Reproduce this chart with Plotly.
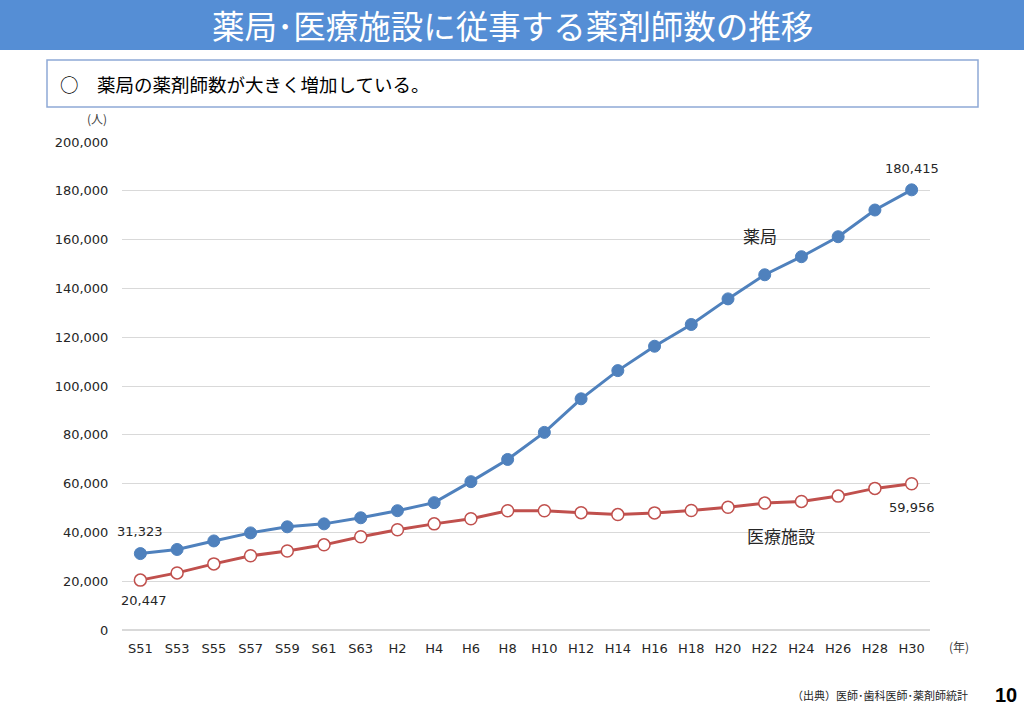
import plotly.graph_objects as go

years = ["S51", "S53", "S55", "S57", "S59", "S61", "S63", "H2", "H4", "H6", "H8",
         "H10", "H12", "H14", "H16", "H18", "H20", "H22", "H24", "H26", "H28", "H30"]
pharmacy = [31323, 33000, 36500, 39800, 42300, 43500, 46000, 48900, 52200, 60800, 69900,
            81000, 94760, 106315, 116303, 125221, 135716, 145603, 153012, 161198, 172142, 180415]
medical = [20447, 23400, 27100, 30400, 32400, 34900, 38200, 41100, 43500, 45600, 48900,
           48900, 48100, 47300, 48000, 48964, 50336, 52013, 52704, 54879, 58044, 59956]
y_ticks = [0, 20000, 40000, 60000, 80000, 100000, 120000, 140000, 160000, 180000, 200000]

W, H = 1024, 710
BLUE = "#4F81BD"
RED = "#C0504D"
JP = "Noto Sans CJK JP"
NUM = "DejaVu Sans"
TXT = "#262626"

# vertical compensation for the capture
OFF, SC = 7.2, 0.977


def px(x):
    return x / W


def py(y):
    yy = (y - OFF) / SC
    return (H - yy) / H


fig = go.Figure()
fig.add_trace(go.Scatter(x=years, y=pharmacy, mode="lines+markers", name="薬局",
                         line=dict(color=BLUE, width=3),
                         marker=dict(size=12, color=BLUE, line=dict(color=BLUE, width=1))))
fig.add_trace(go.Scatter(x=years, y=medical, mode="lines+markers", name="医療施設",
                         line=dict(color=RED, width=3),
                         marker=dict(size=12, color="white", line=dict(color=RED, width=1.5))))

shapes = [
    dict(type="rect", xref="paper", yref="paper", x0=0, x1=1, y0=py(50), y1=1.05,
         fillcolor="#558ED5", line=dict(width=0), layer="below"),
    dict(type="rect", xref="paper", yref="paper", x0=px(47), x1=px(978), y0=py(107), y1=py(60),
         fillcolor="white", line=dict(color="#8EA9D6", width=1.5), layer="below"),
]


def label(x, y, text, size, color=TXT, family=JP, xa="center"):
    return dict(xref="paper", yref="paper", x=px(x), y=py(y), text=text, showarrow=False,
                font=dict(family=family, size=size, color=color), xanchor=xa, yanchor="middle")


annotations = [
    label(512, 25, "薬局･医療施設に従事する薬剤師数の推移", 32.5, "white"),
    label(58, 84, "○　薬局の薬剤師数が大きく増加している。", 18.5, "black", xa="left"),
    label(97, 118, "(人)", 12, "#404040"),
    label(959, 645, "(年)", 12, "#404040"),
    label(760, 235, "薬局", 17),
    label(781, 535, "医療施設", 17),
    label(970, 694, "（出典）医師･歯科医師･薬剤師統計", 11, xa="right"),
    label(1019, 694, "<b>10</b>", 20, "black", family="Liberation Sans", xa="right"),
    dict(x=years[0], y=pharmacy[0], text=f"{pharmacy[0]:,}", showarrow=False, yshift=22,
         xanchor="center", yanchor="middle", font=dict(family=NUM, size=13, color=TXT)),
    dict(x=years[0], y=medical[0], text=f"{medical[0]:,}", showarrow=False, yshift=-20, xshift=4,
         xanchor="center", yanchor="middle", font=dict(family=NUM, size=13, color=TXT)),
    dict(x=years[-1], y=pharmacy[-1], text=f"{pharmacy[-1]:,}", showarrow=False, yshift=21,
         xanchor="center", yanchor="middle", font=dict(family=NUM, size=13, color=TXT)),
    dict(x=years[-1], y=medical[-1], text=f"{medical[-1]:,}", showarrow=False, yshift=-24,
         xanchor="center", yanchor="middle", font=dict(family=NUM, size=13, color=TXT)),
]

fig.update_layout(
    width=W, height=H,
    margin=dict(l=0, r=0, t=0, b=0),
    paper_bgcolor="white", plot_bgcolor="white",
    showlegend=False,
    hovermode=False,
    shapes=shapes,
    annotations=annotations,
    xaxis=dict(domain=[px(122), px(930)], type="category", range=[-0.5, len(years) - 0.5],
               showgrid=False, showline=False, zeroline=False,
               ticks="outside", ticklen=6, tickcolor="rgba(0,0,0,0)",
               tickfont=dict(family=NUM, size=13, color=TXT)),
    yaxis=dict(domain=[py(629), py(142)], range=[0, 200000], tickvals=y_ticks,
               ticktext=[f"{v:,}" for v in y_ticks],
               showgrid=True, gridcolor="#D9D9D9", gridwidth=1, zeroline=True, zerolinecolor="#D9D9D9",
               showline=False, ticks="outside", ticklen=10, tickcolor="rgba(0,0,0,0)",
               tickfont=dict(family=NUM, size=13, color=TXT)),
)

fig.write_html("out.html", config={"displayModeBar": False},
               post_script="document.body.style.margin='0';document.body.style.overflow='hidden';")
